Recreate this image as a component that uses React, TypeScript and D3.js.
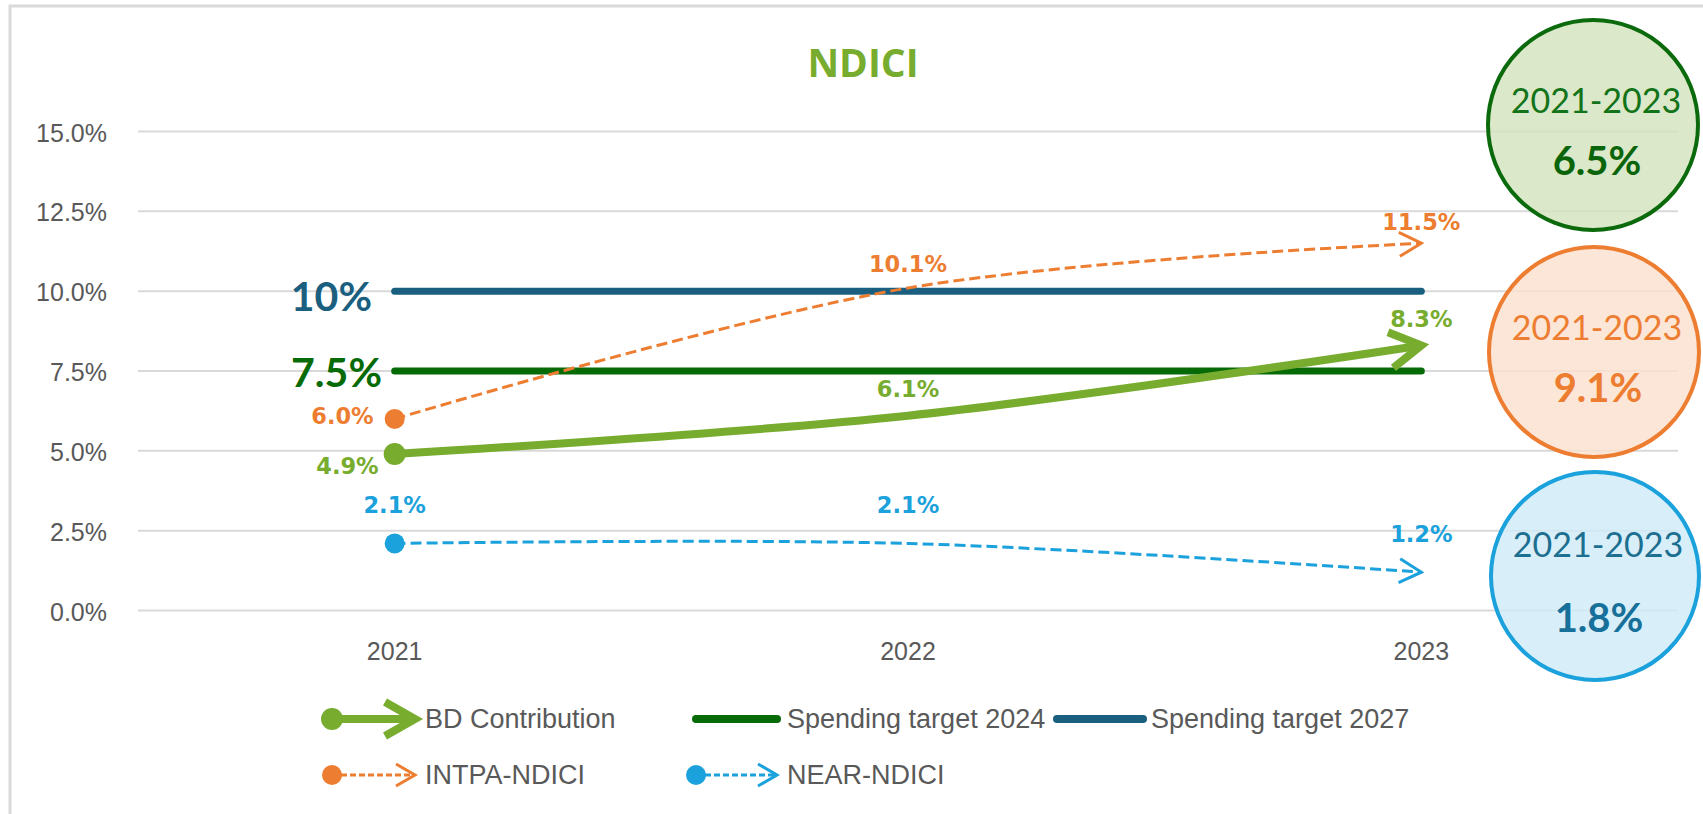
import React from 'react';
import * as d3 from 'd3';

const categories = ['2021', '2022', '2023'];
const bdContribution = [4.9, 6.1, 8.3];
const intpaNdici = [6.0, 10.1, 11.5];
const nearNdici = [2.1, 2.1, 1.2];
const spendingTarget2024 = 7.5;
const spendingTarget2027 = 10;
const yTickValues = [0, 2.5, 5, 7.5, 10, 12.5, 15];
const averagePeriod = '2021-2023';
const averageValues = [6.5, 9.1, 1.8];
const legendLabels = ['BD Contribution', 'Spending target 2024', 'Spending target 2027', 'INTPA-NDICI', 'NEAR-NDICI'];
const chartTitle = 'NDICI';

const W = 1703;
const H = 814;

const C_BD = '#77AC2F';
const C_T24 = '#066A06';
const C_T27 = '#1B5F80';
const C_INTPA = '#ED7D31';
const C_NEAR = '#1BA1DB';
const C_GRID = '#D9D9D9';
const C_AXIS = '#595959';

const AXIS_FONT = '"Liberation Sans", Arial, sans-serif';
const LABEL_FONT = '"DejaVu Sans", Verdana, sans-serif';

export default function App() {
  const x = d3.scaleBand<string>().domain(categories).range([138, 1678]);
  const cx = (c: string) => (x(c) as number) + x.bandwidth() / 2;
  const y = d3.scaleLinear().domain([0, 15]).range([610.5, 131.5]);
  const fmt = d3.format('.1f');

  const line = d3
    .line<number>()
    .x((_, i) => cx(categories[i]))
    .y((d) => y(d))
    .curve(d3.curveCatmullRom.alpha(0.5));

  const x0 = cx(categories[0]);
  const x2 = cx(categories[categories.length - 1]);

  const bdLabelPos: [number, number, string][] = [[-16, 20, 'end'], [0, -19, 'middle'], [0, -18, 'middle']];
  const intpaLabelPos: [number, number, string][] = [[-21, 5, 'end'], [0, -16, 'middle'], [0, -13, 'middle']];
  const nearLabelPos: [number, number, string][] = [[0, -30, 'middle'], [0, -30, 'middle'], [0, -30, 'middle']];

  const circles = [
    { cy: 125, cxp: 1593, r: 105, stroke: '#0B6A0B', fill: '#D3E3BD', t1: '#127318', t2: '#0A650A', b1: 113, b2: 175 },
    { cy: 352, cxp: 1594, r: 105, stroke: C_INTPA, fill: '#FBE0CF', t1: C_INTPA, t2: C_INTPA, b1: 340, b2: 402 },
    { cy: 576, cxp: 1595, r: 104, stroke: C_NEAR, fill: '#CFEBF8', t1: '#1D6F91', t2: '#17709A', b1: 557, b2: 632 },
  ];

  const renderLabels = (vals: number[], pos: [number, number, string][], color: string) =>
    vals.map((v, i) => (
      <text
        key={i}
        x={cx(categories[i]) + pos[i][0]}
        y={y(v) + pos[i][1]}
        textAnchor={pos[i][2] as any}
        fontFamily={LABEL_FONT}
        fontWeight="bold"
        fontSize={22.5}
        fill={color}
      >
        {fmt(v)}%
      </text>
    ));

  const legendText = (tx: number, ty: number, label: string) => (
    <text x={tx} y={ty + 9} fontFamily={AXIS_FONT} fontSize={27} fill={C_AXIS}>
      {label}
    </text>
  );

  return (
    <svg width={W} height={H} style={{ position: 'absolute', left: 0, top: 0, background: '#fff' }}>
      <defs>
        <marker id="arrBD" viewBox="-50 -30 60 60" markerWidth={60} markerHeight={60} refX={0} refY={0} orient="auto" markerUnits="userSpaceOnUse" overflow="visible">
          <path d="M-31,-18 L0,0 L-31,18" fill="none" stroke={C_BD} strokeWidth={8} strokeLinejoin="miter" />
        </marker>
        <marker id="arrIN" viewBox="-50 -30 60 60" markerWidth={60} markerHeight={60} refX={0} refY={0} orient="auto" markerUnits="userSpaceOnUse" overflow="visible">
          <path d="M-22,-12 L0,0 L-22,12" fill="none" stroke={C_INTPA} strokeWidth={3} />
        </marker>
        <marker id="arrNE" viewBox="-50 -30 60 60" markerWidth={60} markerHeight={60} refX={0} refY={0} orient="auto" markerUnits="userSpaceOnUse" overflow="visible">
          <path d="M-22,-12 L0,0 L-22,12" fill="none" stroke={C_NEAR} strokeWidth={3} />
        </marker>
      </defs>
      <rect x={0} y={0} width={W} height={H} fill="#fff" />
      <rect x={10} y={6} width={1760} height={900} fill="none" stroke={C_GRID} strokeWidth={3} />

      <text x={863} y={77} textAnchor="middle" fontFamily='"Open Sans", sans-serif' fontWeight="bold" fontSize={39} fill={C_BD}>
        {chartTitle}
      </text>

      {yTickValues.map((t) => (
        <g key={t}>
          <line x1={138} x2={1678} y1={y(t)} y2={y(t)} stroke={C_GRID} strokeWidth={2} />
          <text x={107} y={y(t) + 10} textAnchor="end" fontFamily={AXIS_FONT} fontSize={25} fill={C_AXIS}>
            {fmt(t)}%
          </text>
        </g>
      ))}

      {categories.map((c) => (
        <text key={c} x={cx(c)} y={660} textAnchor="middle" fontFamily={AXIS_FONT} fontSize={25} fill={C_AXIS}>
          {c}
        </text>
      ))}

      {circles.map((c, i) => (
        <g key={i}>
          <circle cx={c.cxp} cy={c.cy} r={c.r} fill={c.fill} fillOpacity={0.82} stroke={c.stroke} strokeWidth={4} />
          <text x={c.cxp + 3} y={c.b1} textAnchor="middle" fontFamily='Lato, sans-serif' fontSize={34} fill={c.t1}>
            {averagePeriod}
          </text>
          <text x={c.cxp + 4} y={c.b2} textAnchor="middle" fontFamily='Lato, sans-serif' fontWeight="bold" fontSize={40} fill={c.t2}>
            {fmt(averageValues[i])}%
          </text>
        </g>
      ))}

      <line x1={x0} x2={x2} y1={y(spendingTarget2027)} y2={y(spendingTarget2027)} stroke={C_T27} strokeWidth={7} strokeLinecap="round" />
      <line x1={x0} x2={x2} y1={y(spendingTarget2024)} y2={y(spendingTarget2024)} stroke={C_T24} strokeWidth={7} strokeLinecap="round" />
      <text x={372} y={y(spendingTarget2027) + 20} textAnchor="end" fontFamily='Lato, sans-serif' fontWeight="bold" fontSize={41} fill={C_T27}>
        {spendingTarget2027}%
      </text>
      <text x={382} y={y(spendingTarget2024) + 16} textAnchor="end" fontFamily='Lato, sans-serif' fontWeight="bold" fontSize={41} fill={C_T24}>
        {spendingTarget2024}%
      </text>

      <path d={line(nearNdici) as string} fill="none" stroke={C_NEAR} strokeWidth={3} strokeDasharray="11,5" markerEnd="url(#arrNE)" />
      <circle cx={x0} cy={y(nearNdici[0])} r={10} fill={C_NEAR} />
      <path d={line(intpaNdici) as string} fill="none" stroke={C_INTPA} strokeWidth={3} strokeDasharray="11,5" markerEnd="url(#arrIN)" />
      <circle cx={x0} cy={y(intpaNdici[0])} r={10} fill={C_INTPA} />
      <path d={line(bdContribution) as string} fill="none" stroke={C_BD} strokeWidth={8} markerEnd="url(#arrBD)" />
      <circle cx={x0} cy={y(bdContribution[0])} r={11} fill={C_BD} />

      {renderLabels(nearNdici, nearLabelPos, C_NEAR)}
      {renderLabels(intpaNdici, intpaLabelPos, C_INTPA)}
      {renderLabels(bdContribution, bdLabelPos, C_BD)}

      <g>
        <line x1={332} x2={410} y1={719} y2={719} stroke={C_BD} strokeWidth={8} />
        <circle cx={332} cy={719} r={11} fill={C_BD} />
        <path d="M385,702 L415,719 L385,736" fill="none" stroke={C_BD} strokeWidth={8} />
        {legendText(425, 719, legendLabels[0])}

        <line x1={696} x2={777} y1={719} y2={719} stroke={C_T24} strokeWidth={8} strokeLinecap="round" />
        {legendText(787, 719, legendLabels[1])}

        <line x1={1057} x2={1143} y1={719} y2={719} stroke={C_T27} strokeWidth={8} strokeLinecap="round" />
        {legendText(1151, 719, legendLabels[2])}
      </g>
      <g>
        <line x1={332} x2={413} y1={775} y2={775} stroke={C_INTPA} strokeWidth={3} strokeDasharray="6,3" />
        <circle cx={332} cy={775} r={10} fill={C_INTPA} />
        <path d="M396,764 L415,775 L396,786" fill="none" stroke={C_INTPA} strokeWidth={3} />
        {legendText(425, 775, legendLabels[3])}

        <line x1={696} x2={775} y1={775} y2={775} stroke={C_NEAR} strokeWidth={3} strokeDasharray="6,3" />
        <circle cx={696} cy={775} r={10} fill={C_NEAR} />
        <path d="M758,764 L777,775 L758,786" fill="none" stroke={C_NEAR} strokeWidth={3} />
        {legendText(787, 775, legendLabels[4])}
      </g>
    </svg>
  );
}
